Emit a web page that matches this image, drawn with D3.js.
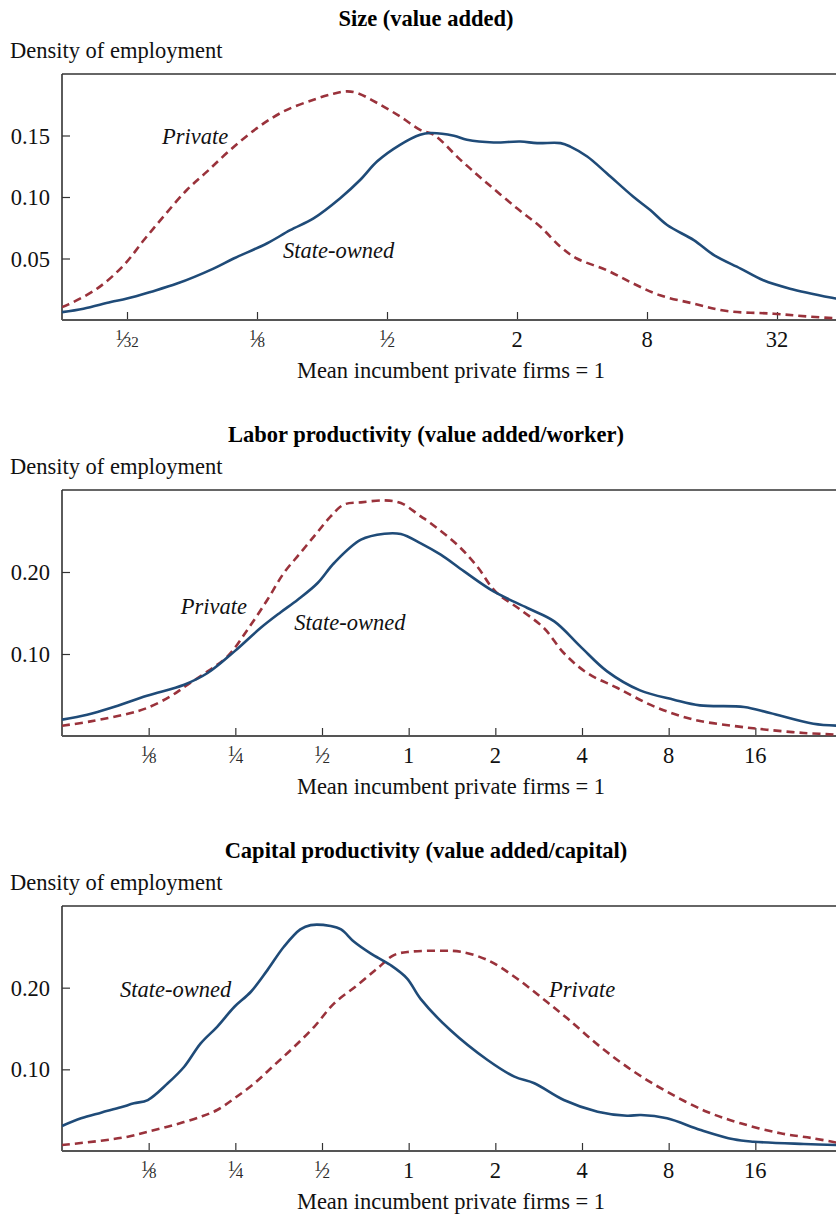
<!DOCTYPE html>
<html>
<head>
<meta charset="utf-8">
<script src="https://cdn.jsdelivr.net/npm/d3@7"></script>
<style>
  html, body { margin: 0; padding: 0; background: #fff; }
  svg { display: block; font-family: "Liberation Serif", "Times New Roman", serif; }
</style>
</head>
<body>
<svg id="chart" width="836" height="1216"></svg>
<script>
// Firm value relative to the mean of incumbent private firms, in log2 units,
// with the employment density at each point.

// Size (value added)
const sizeStateX = [-6, -5.67, -5.25, -5, -4.64, -4.23, -3.67, -3.36, -2.85, -2.49, -2.13, -1.72, -1.41, -1.15, -0.8, -0.49, -0.33, 0.03, 0.23, 0.64, 1.05, 1.31, 1.67, 1.82, 2.08, 2.38, 2.79, 3.05, 3.31, 3.72, 4.03, 4.44, 4.79, 5.2, 5.91, 6];
const sizeStateY = [0.0064, 0.0092, 0.0146, 0.0174, 0.0228, 0.0296, 0.0418, 0.050, 0.0622, 0.073, 0.0826, 0.099, 0.114, 0.129, 0.1424, 0.1506, 0.152, 0.1498, 0.1465, 0.1443, 0.1451, 0.1438, 0.1438, 0.141, 0.1329, 0.1193, 0.1002, 0.0894, 0.0772, 0.0649, 0.0527, 0.0418, 0.0323, 0.0255, 0.0174, 0.0165];
const sizePrivX = [-6, -5.9, -5.46, -5.05, -4.74, -4.44, -4.08, -3.77, -3.41, -3.0, -2.59, -2.13, -1.82, -1.62, -1.46, -1.15, -0.8, -0.49, -0.28, 0.13, 0.54, 1.0, 1.36, 1.67, 1.92, 2.38, 2.79, 3.2, 3.72, 4.23, 4.95, 5.46, 6];
const sizePrivY = [0.0105, 0.0127, 0.0255, 0.0445, 0.065, 0.084, 0.1057, 0.1206, 0.1383, 0.156, 0.1696, 0.1791, 0.184, 0.1859, 0.1846, 0.1764, 0.1655, 0.1546, 0.1506, 0.1302, 0.1112, 0.0908, 0.0758, 0.0595, 0.050, 0.0405, 0.0296, 0.0201, 0.0133, 0.0073, 0.0051, 0.0029, 0.001];

// Labor productivity (value added/worker)
const laborStateX = [-4, -3.71, -3.44, -3.02, -2.59, -2.32, -2.01, -1.71, -1.48, -1.28, -1.05, -0.86, -0.55, -0.28, -0.09, 0.14, 0.37, 0.64, 0.98, 1.37, 1.68, 1.98, 2.29, 2.67, 3.06, 3.36, 3.87, 4.17, 4.67, 5];
const laborStateY = [0.0199, 0.026, 0.0341, 0.0491, 0.0626, 0.0768, 0.1032, 0.1317, 0.1507, 0.1662, 0.1866, 0.211, 0.2394, 0.2467, 0.2463, 0.235, 0.2211, 0.2007, 0.1763, 0.1561, 0.1398, 0.1093, 0.0788, 0.0556, 0.0443, 0.0373, 0.0354, 0.028, 0.015, 0.0125];
const laborPrivX = [-4, -3.67, -3.24, -3.02, -2.75, -2.55, -2.32, -2.09, -1.86, -1.63, -1.44, -1.25, -1.06, -0.9, -0.75, -0.55, -0.28, -0.09, 0.14, 0.25, 0.56, 0.79, 1.0, 1.29, 1.56, 1.79, 2.06, 2.41, 2.83, 3.29, 3.79, 4.13, 4.56, 5];
const laborPrivY = [0.0125, 0.0178, 0.0272, 0.0341, 0.0483, 0.0626, 0.0788, 0.0971, 0.1296, 0.1662, 0.1988, 0.2232, 0.2476, 0.2678, 0.2821, 0.2849, 0.2873, 0.2841, 0.2678, 0.2598, 0.2333, 0.2068, 0.1763, 0.154, 0.1317, 0.1012, 0.0768, 0.0585, 0.0361, 0.0199, 0.0117, 0.0077, 0.0037, 0.0015];

// Capital productivity (value added/capital)
const capStateX = [-4, -3.78, -3.55, -3.32, -3.17, -3.01, -2.78, -2.59, -2.4, -2.21, -2.01, -1.82, -1.63, -1.44, -1.25, -1.13, -0.9, -0.78, -0.63, -0.44, -0.21, -0.02, 0.14, 0.48, 0.91, 1.22, 1.45, 1.79, 2.18, 2.52, 2.68, 2.98, 3.37, 3.75, 3.98, 4.56, 5];
const capStateY = [0.0306, 0.040, 0.0469, 0.0535, 0.0584, 0.0624, 0.0829, 0.1032, 0.1318, 0.1521, 0.1766, 0.195, 0.2215, 0.2501, 0.2713, 0.2766, 0.2754, 0.2713, 0.2562, 0.242, 0.2277, 0.2114, 0.1859, 0.1481, 0.1114, 0.091, 0.0829, 0.0624, 0.0481, 0.0432, 0.0441, 0.040, 0.0257, 0.0143, 0.0114, 0.0086, 0.0072];
const capPrivX = [-4, -3.55, -3.24, -3.01, -2.71, -2.4, -2.21, -2.01, -1.78, -1.55, -1.32, -1.09, -0.86, -0.59, -0.36, -0.17, 0.02, 0.37, 0.6, 0.91, 1.22, 1.52, 1.83, 2.21, 2.6, 2.98, 3.44, 3.83, 4.29, 4.67, 5];
const capPrivY = [0.0073, 0.0126, 0.0175, 0.0236, 0.0318, 0.042, 0.0502, 0.0645, 0.0829, 0.1053, 0.1277, 0.1521, 0.1808, 0.2032, 0.2236, 0.2399, 0.244, 0.2452, 0.244, 0.2338, 0.2134, 0.1889, 0.1624, 0.1277, 0.0971, 0.0726, 0.0481, 0.0339, 0.0217, 0.0155, 0.009];

// Axis ticks: numerator/denominator pairs (denominator 1 = whole number)
const sizeTicksX = [[1, 32], [1, 8], [1, 2], [2, 1], [8, 1], [32, 1]];
const prodTicksX = [[1, 8], [1, 4], [1, 2], [1, 1], [2, 1], [4, 1], [8, 1], [16, 1]];
const sizeTicksY = [0.05, 0.10, 0.15];
const prodTicksY = [0.10, 0.20];

const titles = ["Size (value added)", "Labor productivity (value added/worker)", "Capital productivity (value added/capital)"];
const yAxisTitle = "Density of employment";
const xAxisTitle = "Mean incumbent private firms = 1";
const seriesNames = ["State-owned", "Private"];

const zip = (xs, ys) => xs.map((x, i) => [x, ys[i]]);

const panels = [
  { title: titles[0], top: 74, bottom: 320, xDom: [-6, 6], yDom: [0, 0.2],
    state: zip(sizeStateX, sizeStateY), priv: zip(sizePrivX, sizePrivY),
    xt: sizeTicksX, yt: sizeTicksY, yfmt: d3.format(".2f"),
    labState: [-2.6, 0.0502], labPriv: [-4.46, 0.1432] },
  { title: titles[1], top: 490, bottom: 736, xDom: [-4, 5], yDom: [0, 0.3],
    state: zip(laborStateX, laborStateY), priv: zip(laborPrivX, laborPrivY),
    xt: prodTicksX, yt: prodTicksY, yfmt: d3.format(".2f"),
    labState: [-1.32, 0.1296], labPriv: [-2.63, 0.1488] },
  { title: titles[2], top: 906, bottom: 1151, xDom: [-4, 5], yDom: [0, 0.3],
    state: zip(capStateX, capStateY), priv: zip(capPrivX, capPrivY),
    xt: prodTicksX, yt: prodTicksY, yfmt: d3.format(".2f"),
    labState: [-3.33, 0.1889], labPriv: [1.62, 0.1889] }
];

const svg = d3.select("#chart");
const left = 62, right = 842;
const blue = "#1f4b78", red = "#9a323b", ink = "#111";
const fs = 22.5;

panels.forEach(p => {
  const x = d3.scaleLinear().domain(p.xDom).range([left, right]);
  const y = d3.scaleLinear().domain(p.yDom).range([p.bottom, p.top]);
  const g = svg.append("g");

  // titles
  g.append("text").attr("x", 426).attr("y", p.top - 48)
    .attr("text-anchor", "middle").attr("font-weight", "bold")
    .attr("font-size", fs).attr("fill", "#000").text(p.title);
  g.append("text").attr("x", 10).attr("y", p.top - 16)
    .attr("font-size", fs).attr("fill", ink).text(yAxisTitle);

  // frame: top border and left axis
  g.append("line").attr("x1", left).attr("x2", right).attr("y1", p.top).attr("y2", p.top)
    .attr("stroke", "#333").attr("stroke-width", 1.4);

  // y axis
  const yAxis = d3.axisRight(y).tickValues(p.yt).tickSize(8).tickFormat("");
  const ya = g.append("g").attr("transform", `translate(${left},0)`).call(yAxis);
  ya.select(".domain").remove();
  ya.selectAll(".tick line").attr("stroke", "#333").attr("stroke-width", 1.2);
  g.append("line").attr("x1", left).attr("x2", left).attr("y1", p.top).attr("y2", p.bottom)
    .attr("stroke", "#333").attr("stroke-width", 1.6);
  g.selectAll(".ylab").data(p.yt).join("text")
    .attr("x", left - 12).attr("y", d => y(d) + 8)
    .attr("text-anchor", "end").attr("font-size", fs).attr("fill", ink)
    .text(d => p.yfmt(d));

  // x axis: ticks pointing up into the plot
  const xVals = p.xt.map(([n, dn]) => Math.log2(n / dn));
  const xAxis = d3.axisTop(x).tickValues(xVals).tickSize(8).tickFormat("");
  const xa = g.append("g").attr("transform", `translate(0,${p.bottom})`).call(xAxis);
  xa.select(".domain").remove();
  xa.selectAll(".tick line").attr("stroke", "#333").attr("stroke-width", 1.2);
  g.append("line").attr("x1", left).attr("x2", right).attr("y1", p.bottom).attr("y2", p.bottom)
    .attr("stroke", "#555").attr("stroke-width", 2.2);

  p.xt.forEach(([n, dn]) => {
    const t = g.append("text").attr("x", x(Math.log2(n / dn))).attr("y", p.bottom + 27)
      .attr("text-anchor", "middle").attr("fill", ink).attr("font-size", fs);
    if (dn === 1) {
      t.text(n);
    } else {
      // stacked fraction: raised numerator, fraction slash, denominator on the baseline
      t.attr("fill", "#2a2a2a");
      t.append("tspan").attr("font-size", 15).attr("dy", -7).text(n);
      t.append("tspan").attr("font-size", 23).attr("dy", 7).attr("dx", -1.5).text("\u2044");
      t.append("tspan").attr("font-size", 15).attr("dx", -1.5).text(dn);
    }
  });

  g.append("text").attr("x", 451).attr("y", p.bottom + 58)
    .attr("text-anchor", "middle").attr("font-size", fs).attr("fill", ink).text(xAxisTitle);

  // density curves
  const clipId = "clip" + p.top;
  svg.append("clipPath").attr("id", clipId).append("rect")
    .attr("x", left).attr("y", p.top).attr("width", right - left).attr("height", p.bottom - p.top);
  const line = d3.line().x(d => x(d[0])).y(d => y(d[1])).curve(d3.curveCatmullRom.alpha(0.5));
  g.append("path").datum(p.priv).attr("d", line).attr("clip-path", `url(#${clipId})`)
    .attr("fill", "none").attr("stroke", red).attr("stroke-width", 2.6)
    .attr("stroke-dasharray", "8,5");
  g.append("path").datum(p.state).attr("d", line).attr("clip-path", `url(#${clipId})`)
    .attr("fill", "none").attr("stroke", blue).attr("stroke-width", 2.6);

  // series labels
  g.append("text").attr("x", x(p.labState[0])).attr("y", y(p.labState[1]))
    .attr("font-style", "italic").attr("font-size", fs).attr("fill", ink).text(seriesNames[0]);
  g.append("text").attr("x", x(p.labPriv[0])).attr("y", y(p.labPriv[1]))
    .attr("font-style", "italic").attr("font-size", fs).attr("fill", ink).text(seriesNames[1]);
});
</script>
</body>
</html>
